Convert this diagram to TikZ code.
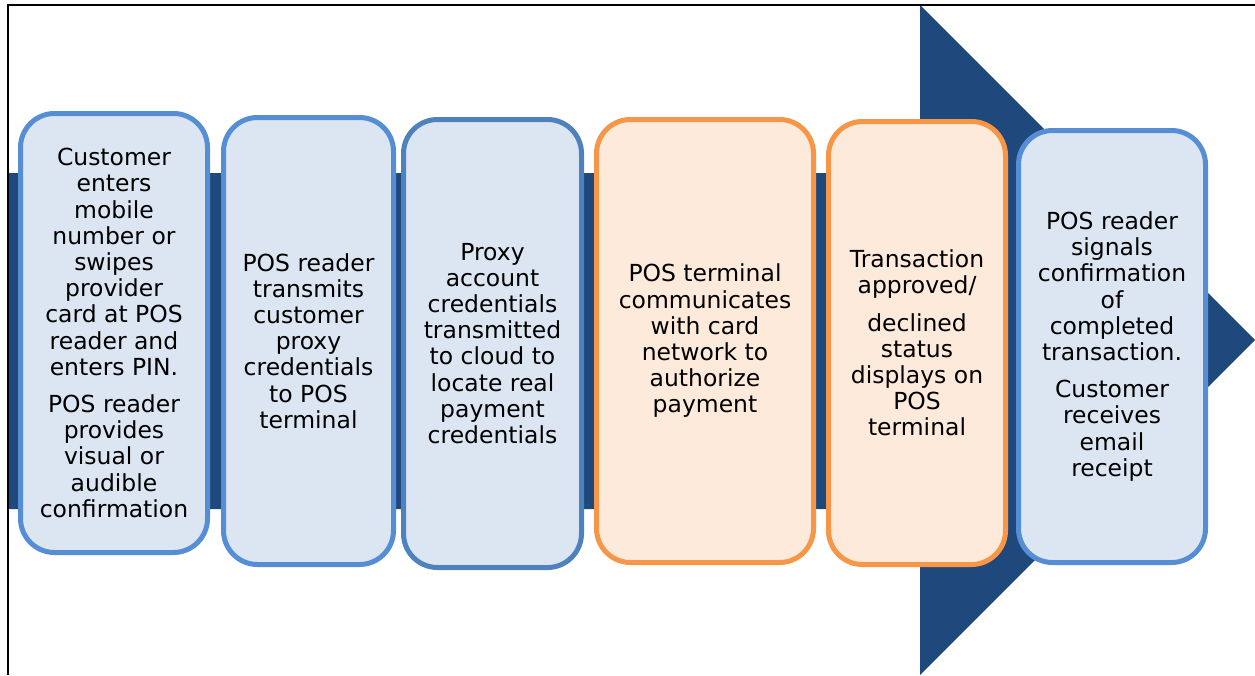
\documentclass[tikz,border=0pt]{standalone}
\usepackage{fontspec}
\setmainfont{DejaVu Sans}
\definecolor{arrowblue}{HTML}{1F497D}
\definecolor{stepfill}{HTML}{DCE6F2}
\definecolor{stepline}{HTML}{558ED5}
\definecolor{steplinedark}{HTML}{4F81BD}
\definecolor{warmfill}{HTML}{FDEADA}
\definecolor{warmline}{HTML}{F79646}
\begin{document}
\begin{tikzpicture}[x=0.75pt,y=-0.75pt,
  stepbox/.style={draw=stepline, fill=stepfill, line width=3.75pt,
    rounded corners=25.5pt, inner sep=0pt, align=center,
    font=\fontsize{17.6pt}{19.65pt}\selectfont},
  warmbox/.style={stepbox, draw=warmline, fill=warmfill}]
\useasboundingbox (0,0) rectangle (1255,675);
% process arrow behind the steps
\fill[arrowblue] (8,173) -- (920,173) -- (920,5) -- (1255,340)
  -- (920,675) -- (920,509) -- (8,509) -- cycle;
% frame edges
\draw[black, line width=1.5pt] (8,675) -- (8,5) -- (1255,5);
% steps
\node[stepbox, minimum width=140.25pt, minimum height=329.25pt] (s1) at (114,333)
  {Customer\\enters\\mobile\\number or\\swipes\\provider\\card at POS\\reader and\\enters PIN.\\[8.25pt]
   POS reader\\provides\\visual or\\audible\\confirmation};
\node[stepbox, minimum width=127.5pt, minimum height=335.25pt] (s2) at (308.5,341)
  {POS reader\\transmits\\customer\\proxy\\credentials\\to POS\\terminal};
\node[stepbox, draw=steplinedark, minimum width=133.5pt, minimum height=336pt] (s3) at (492.5,343.5)
  {Proxy\\account\\credentials\\transmitted\\to cloud to\\locate real\\payment\\credentials};
\node[warmbox, minimum width=162.75pt, minimum height=332.25pt] (s4) at (705,341)
  {POS terminal\\communicates\\with card\\network to\\authorize\\payment};
\node[warmbox, minimum width=132.75pt, minimum height=332.25pt] (s5) at (917,343)
  {Transaction\\approved/\\[8.25pt]declined\\status\\displays on\\POS\\terminal};
\node[stepbox, minimum width=140.25pt, minimum height=324pt] (s6) at (1112,346.5)
  {POS reader\\signals\\confirmation\\of\\completed\\transaction.\\[8.25pt]
   Customer\\receives\\email\\receipt};
\end{tikzpicture}
\end{document}
